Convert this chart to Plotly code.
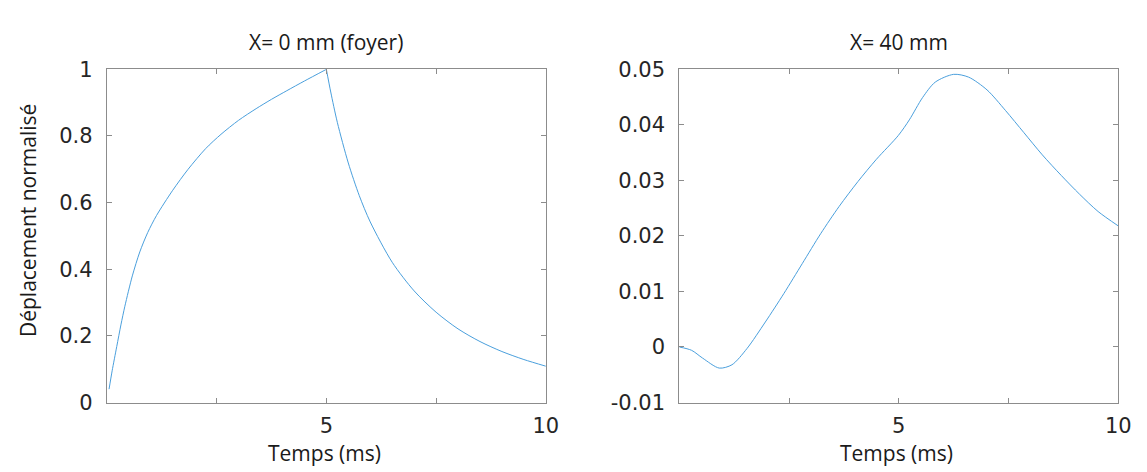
import plotly.graph_objects as go

# Left panel: X = 0 mm (foyer)
rise_t = [0.05, 0.12, 0.225, 0.32, 0.41, 0.58, 0.75, 0.93, 1.13, 1.5, 1.85, 2.25, 2.6, 3.0, 3.4, 3.75, 4.1, 4.5, 5.0]
rise_y = [0.04, 0.095, 0.168, 0.233, 0.289, 0.38, 0.452, 0.51, 0.561, 0.637, 0.700, 0.762, 0.805, 0.847, 0.882,
          0.910, 0.936, 0.965, 1.0]
decay_t = [5.0, 5.1, 5.25, 5.5, 5.75, 6.0, 6.5, 7.0, 7.5, 8.0, 8.5, 9.0, 9.5, 10.0]
decay_y = [1.0, 0.932, 0.841, 0.719, 0.621, 0.542, 0.421, 0.335, 0.271, 0.221, 0.183, 0.153, 0.129, 0.109]

# Right panel: X = 40 mm
far_t = [0.0, 0.28, 0.53, 0.91, 1.2, 1.54, 1.96, 2.38, 2.8, 3.22, 3.64, 4.07, 4.49, 4.99, 5.24, 5.54,
         5.83, 6.25, 6.59, 7.01, 7.43, 7.85, 8.27, 8.7, 9.12, 9.54, 10.0]
far_y = [0.0, -0.0006, -0.0020, -0.0038, -0.0032, -0.0003, 0.0045, 0.0096, 0.0150, 0.0204, 0.0253, 0.0298,
         0.0338, 0.0381, 0.0409, 0.0449, 0.0477, 0.0491, 0.0486, 0.0463, 0.0426, 0.0386, 0.0346, 0.0309,
         0.0275, 0.0244, 0.0218]

x_tickvals = [0, 2.5, 5, 7.5, 10]
x_ticktext = ["", "", "5", "", "10"]
left_yticks = [0, 0.2, 0.4, 0.6, 0.8, 1.0]
left_yticktext = ["0", "0.2", "0.4", "0.6", "0.8", "1"]
right_yticks = [-0.01, 0, 0.01, 0.02, 0.03, 0.04, 0.05]
right_yticktext = ["-0.01", "0", "0.01", "0.02", "0.03", "0.04", "0.05"]

titles = ["X= 0 mm (foyer)", "X= 40 mm"]
xlabel = "Temps (ms)"
ylabel = "Déplacement normalisé"

W, H = 1147, 472
line_color = "#4a9fdc"
axis_color = "#8c8c8c"
tick_font = dict(family="DejaVu Sans", size=21, color="#262626")
text_font = dict(family="Open Sans", size=21, color="#1a1a1a")

fig = go.Figure()
fig.add_trace(go.Scatter(x=rise_t, y=rise_y, mode="lines", line=dict(color=line_color, width=1, shape="spline", smoothing=0.8),
                         xaxis="x", yaxis="y", showlegend=False))
fig.add_trace(go.Scatter(x=decay_t, y=decay_y, mode="lines", line=dict(color=line_color, width=1, shape="spline", smoothing=0.8),
                         xaxis="x", yaxis="y", showlegend=False))
fig.add_trace(go.Scatter(x=far_t, y=far_y, mode="lines", line=dict(color=line_color, width=1, shape="spline", smoothing=0.8),
                         xaxis="x2", yaxis="y2", showlegend=False))

px_l = (100, 544)
px_r = (679, 1123)
py = (52, 403)
ydom = [1 - py[1] / H, 1 - py[0] / H]

common_axis = dict(showline=True, linecolor=axis_color, linewidth=1, mirror="allticks", ticks="inside",
                   ticklen=5, tickcolor=axis_color, tickwidth=1, showgrid=False, zeroline=False,
                   tickfont=tick_font, fixedrange=True)

fig.update_layout(
    width=W, height=H, margin=dict(l=0, r=0, t=0, b=0),
    paper_bgcolor="white", plot_bgcolor="white",
    xaxis=dict(domain=[px_l[0] / W, px_l[1] / W], range=[0, 10], tickvals=x_tickvals, ticktext=x_ticktext,
               anchor="y", ticklabelstandoff=4, **common_axis),
    yaxis=dict(domain=ydom, range=[0, 1], tickvals=left_yticks, ticktext=left_yticktext, anchor="x",
               ticklabelstandoff=9, **common_axis),
    xaxis2=dict(domain=[px_r[0] / W, px_r[1] / W], range=[0, 10], tickvals=x_tickvals, ticktext=x_ticktext,
                anchor="y2", ticklabelstandoff=4, **common_axis),
    yaxis2=dict(domain=ydom, range=[-0.01, 0.05], tickvals=right_yticks, ticktext=right_yticktext, anchor="x2",
                ticklabelstandoff=9, **common_axis),
)

annots = [
    dict(text=titles[0], x=(px_l[0] + px_l[1]) / 2 / W, y=1 - 23 / H),
    dict(text=titles[1], x=(px_r[0] + px_r[1]) / 2 / W, y=1 - 23 / H),
    dict(text=xlabel, x=320 / W, y=1 - 456 / H),
    dict(text=xlabel, x=899 / W, y=1 - 456 / H),
    dict(text=ylabel, x=21 / W, y=1 - 211 / H, textangle=-90),
]
for a in annots:
    fig.add_annotation(xref="paper", yref="paper", showarrow=False, xanchor="center", yanchor="middle",
                       font=text_font, **a)

fig.write_html("out.html")
